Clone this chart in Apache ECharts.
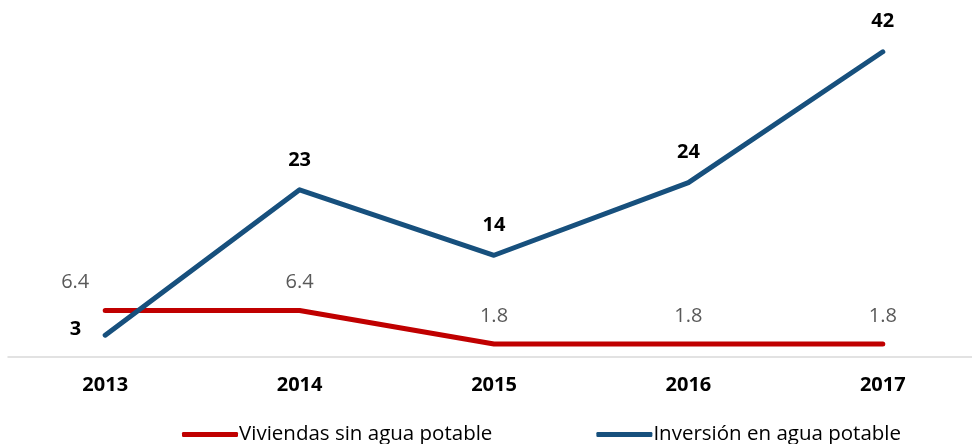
<!DOCTYPE html>
<html>
<head>
<meta charset="utf-8">
<script src="https://cdn.jsdelivr.net/npm/echarts@6/dist/echarts.min.js"></script>
<style>
  html, body { margin: 0; padding: 0; background: #fff; overflow: hidden; }
  #chart { width: 980px; height: 444px; }
</style>
</head>
<body>
<div id="chart"></div>
<script>
// datos
var years = ['2013', '2014', '2015', '2016', '2017'];
var viviendas = [6.4, 6.4, 1.8, 1.8, 1.8];
var inversion = [3, 23, 14, 24, 42];

var chart = echarts.init(document.getElementById('chart'));
var font = '"Open Sans", "Noto Sans", sans-serif';

chart.setOption({
  animation: false,
  textStyle: { fontFamily: font },
  grid: {
    left: 8,
    right: 0,
    top: 30,
    bottom: 87
  },
  legend: {
    top: 419,
    left: 177,
    itemGap: 104,
    itemWidth: 56,
    itemHeight: 5,
    icon: 'roundRect',
    textStyle: { fontSize: 20.5, color: '#000', fontFamily: font, padding: [0, 0, 0, -4] },
    data: ['Viviendas sin agua potable', 'Inversión en agua potable']
  },
  xAxis: {
    type: 'category',
    data: years,
    axisTick: { show: false },
    axisLine: { lineStyle: { color: '#d9d9d9', width: 1.5 } },
    axisLabel: {
      margin: 18,
      fontSize: 20,
      fontWeight: 'bold',
      color: '#000',
      fontFamily: font
    }
  },
  yAxis: {
    type: 'value',
    min: 0,
    max: 45,
    show: false,
    splitLine: { show: false }
  },
  series: [
    {
      name: 'Viviendas sin agua potable',
      type: 'line',
      data: viviendas.map(function (v, i) {
        if (i === 0) {
          return { value: v, label: { offset: [-30, 0] } };
        }
        return v;
      }),
      symbol: 'circle',
      symbolSize: 0.1,
      showSymbol: true,
      lineStyle: { color: '#c00000', width: 5, cap: 'round', join: 'round' },
      itemStyle: { color: '#c00000' },
      label: {
        show: true,
        position: 'top',
        distance: 18,
        fontSize: 20,
        color: '#595959',
        fontFamily: font
      }
    },
    {
      name: 'Inversión en agua potable',
      type: 'line',
      data: inversion.map(function (v, i) {
        if (i === 0) {
          return { value: v, label: { position: 'left', distance: 24, offset: [0, -6] } };
        }
        return v;
      }),
      symbol: 'circle',
      symbolSize: 0.1,
      showSymbol: true,
      lineStyle: { color: '#17507d', width: 5, cap: 'round', join: 'round' },
      itemStyle: { color: '#17507d' },
      label: {
        show: true,
        position: 'top',
        distance: 20,
        fontSize: 20,
        fontWeight: 'bold',
        color: '#000',
        fontFamily: font
      }
    }
  ]
});
</script>
</body>
</html>
